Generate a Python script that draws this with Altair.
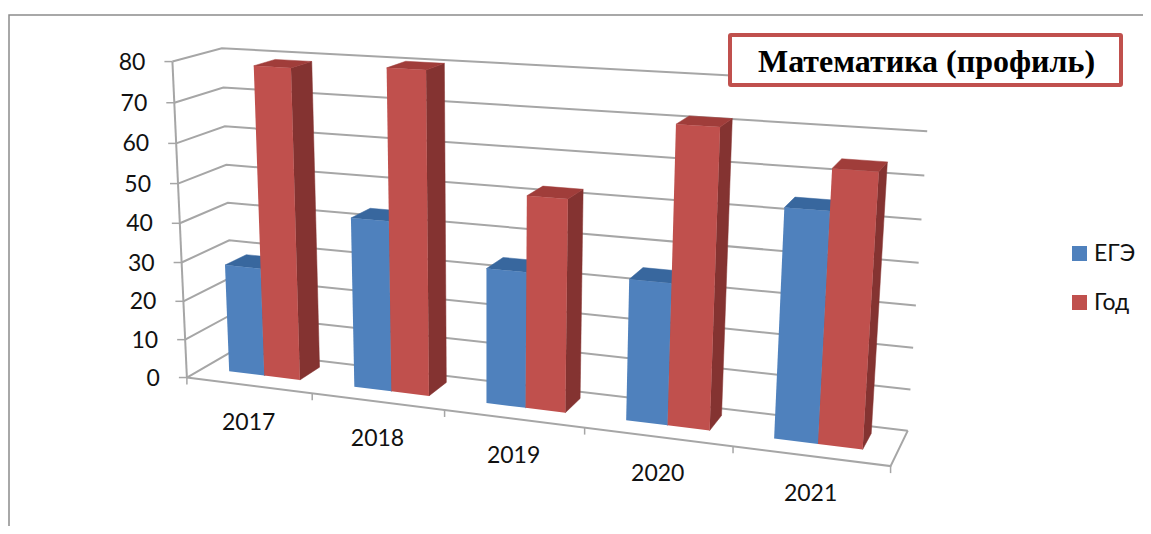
import numpy as np
import pandas as pd
import altair as alt

years = ["2017", "2018", "2019", "2020", "2021"]
ege = [28, 43, 33.6, 34.3, 54]
god = [78.7, 80, 52, 71, 63.5]
value_ticks = [0, 10, 20, 30, 40, 50, 60, 70, 80]
series_names = ["ЕГЭ", "Год"]
series_colors = ["#4f81bd", "#c0504d"]
side_colors = ["#2f5f94", "#843331"]
top_colors = ["#38679e", "#a03d3a"]
title_text = "Математика (профиль)"

# camera calibration: (category position, depth, value) -> page pixel
cal_world = [(0,0,0),(1,0,0),(2,0,0),(3,0,0),(4,0,0),(5,0,0),(5,1,0),(0,1,0),(0,0,80),(0,1,80),(5,1,80),(5,1,40),(0,0,40)]
cal_page = [(189,376),(313,393),(445,410),(584,428),(732,447),(891,468),(908,428),(231,353),(170,62),(224,48),(930,87),(919,262),(180,222)]
A, b = [], []
for (u, d, v), (px, py) in zip(cal_world, cal_page):
    A.append([u, d, v, 1, 0, 0, 0, 0, -px*u, -px*d, -px*v]); b.append(px)
    A.append([0, 0, 0, 0, u, d, v, 1, -py*u, -py*d, -py*v]); b.append(py)
p = np.linalg.lstsq(np.array(A, float), np.array(b, float), rcond=None)[0]
P = np.append(p, 1.0).reshape(3, 4)

def proj(u, d, v):
    h = P @ np.array([u, d, v, 1.0])
    return h[0]/h[2], h[1]/h[2]

BAR = 1/3.5
GAP = 0.75/3.5
D0, D1 = 0.34, 0.80

def poly_df(name, pts):
    rows = []
    for i, (u, d, v) in enumerate(pts):
        x, y = proj(u, d, v)
        rows.append({"sx": x, "sy": y, "i": i, "poly": name})
    return pd.DataFrame(rows)

W, H = 1135, 518
X = alt.X("sx:Q", axis=None, scale=alt.Scale(domain=[8, 8+W], range=[0, W], nice=False, zero=False))
Y = alt.Y("sy:Q", axis=None, scale=alt.Scale(domain=[8, 8+H], range=[0, H], nice=False, zero=False))
color_scale = alt.Scale(domain=series_names, range=series_colors)

def face(df, color):
    return alt.Chart(df).mark_line(interpolate="linear-closed", fill=color, stroke=color, strokeWidth=0.5).encode(
        x=X, y=Y, order="i:Q", detail="poly:N")

def front_face(df):
    return alt.Chart(df).mark_line(interpolate="linear-closed", strokeWidth=0).encode(
        x=X, y=Y, order="i:Q", detail="poly:N",
        fill=alt.Fill("series:N", scale=color_scale, sort=series_names, title=None, legend=alt.Legend(
            orient="none", legendX=1060, legendY=234, symbolType="square", symbolSize=225, symbolStrokeWidth=0,
            labelFont="Lato", labelFontSize=23, labelColor="#111111", rowPadding=25, labelOffset=3,
            symbolStrokeColor="transparent")))

def seg(name, pts, color="#a6a6a6", width=2):
    df = pd.DataFrame([{"sx": proj(*q)[0], "sy": proj(*q)[1], "i": i, "poly": name} for i, q in enumerate(pts)])
    return alt.Chart(df).mark_line(color=color, strokeWidth=width).encode(x=X, y=Y, order="i:Q", detail="poly:N")

layers = []

# frame of the pasted picture
frame = pd.DataFrame({"sx": [1143, 9, 9], "sy": [15, 15, 526], "i": [0, 1, 2], "poly": ["frame"]*3})
layers.append(alt.Chart(frame).mark_line(color="#8c8c8c", strokeWidth=1.5).encode(x=X, y=Y, order="i:Q", detail="poly:N"))

# walls
for v in value_ticks:
    layers.append(seg(f"g{v}", [(0, 0, v), (0, 1, v), (5, 1, v)]))
layers.append(seg("axis", [(0, 0, 0), (0, 0, 80)], width=2))
layers.append(seg("front", [(0, 0, 0), (5, 0, 0), (5, 1, 0)]))

# ticks
tick_rows = []
for v in value_ticks:
    x, y = proj(0, 0, v)
    tick_rows += [{"sx": x, "sy": y, "i": 0, "poly": f"vt{v}"}, {"sx": x-8, "sy": y, "i": 1, "poly": f"vt{v}"}]
for k in range(6):
    x, y = proj(k, 0, 0)
    tick_rows += [{"sx": x, "sy": y, "i": 0, "poly": f"ct{k}"}, {"sx": x, "sy": y+7, "i": 1, "poly": f"ct{k}"}]
layers.append(alt.Chart(pd.DataFrame(tick_rows)).mark_line(color="#a6a6a6", strokeWidth=1.5).encode(x=X, y=Y, order="i:Q", detail="poly:N"))

# bars, painted back to front
for c in range(len(years)):
    for s, vals in enumerate([ege, god]):
        u0 = c + GAP + s*BAR
        u1 = u0 + BAR
        v = vals[c]
        nm = f"{years[c]}-{s}"
        layers.append(face(poly_df(nm+"side", [(u1, D0, 0), (u1, D1, 0), (u1, D1, v), (u1, D0, v)]), side_colors[s]))
        layers.append(face(poly_df(nm+"top", [(u0, D0, v), (u0, D1, v), (u1, D1, v), (u1, D0, v)]), top_colors[s]))
        fdf = poly_df(nm+"front", [(u0, D0, 0), (u1, D0, 0), (u1, D0, v), (u0, D0, v)])
        fdf["series"] = series_names[s]
        layers.append(front_face(fdf))

# value labels
vt = pd.DataFrame([{"sx": proj(0, 0, v)[0]-27, "sy": proj(0, 0, v)[1]+1, "t": str(v)} for v in value_ticks])
layers.append(alt.Chart(vt).mark_text(font="Lato", fontSize=23, color="#111111", align="right", baseline="middle").encode(x=X, y=Y, text="t:N"))

# category labels
ct = pd.DataFrame([{"sx": proj(c+0.5, 0, 0)[0], "sy": proj(c+0.5, 0, 0)[1]+37.5, "t": years[c]} for c in range(len(years))])
layers.append(alt.Chart(ct).mark_text(font="Lato", fontSize=23, color="#111111", align="center", baseline="middle").encode(x=X, y=Y, text="t:N"))

# title box
box = pd.DataFrame({"sx": [730], "sx2": [1121], "sy": [35], "sy2": [85]})
layers.append(alt.Chart(box).mark_rect(fill="white", stroke="#c0504d", strokeWidth=4, cornerRadius=1).encode(
    x=X, x2="sx2:Q", y=Y, y2="sy2:Q"))

chart = alt.layer(*layers).properties(
    width=W, height=H, padding=0, background="white",
    autosize=alt.AutoSizeParams(type="none"),
    title=alt.TitleParams(title_text, font="Liberation Serif", fontSize=32, fontWeight="bold", color="#000000",
                          anchor="middle", dx=351, dy=71, offset=0),
).configure_view(stroke=None)

chart.save("out.html", embed_options={"renderer": "svg", "actions": False})
